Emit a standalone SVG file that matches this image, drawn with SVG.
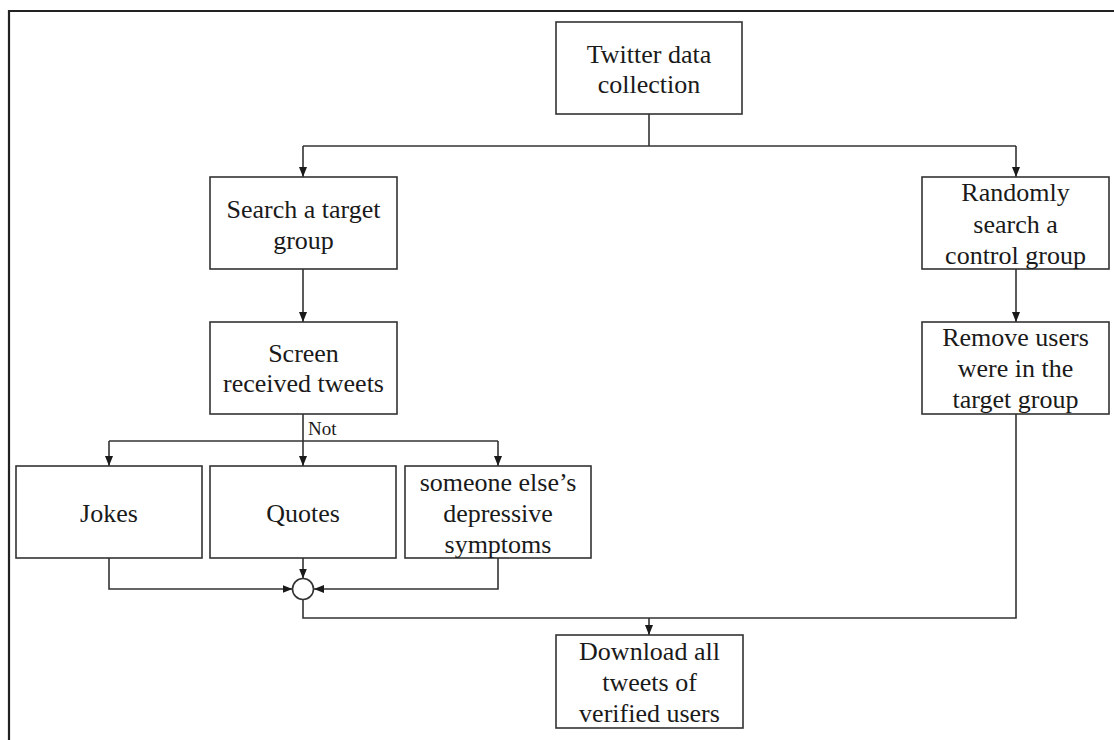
<svg xmlns="http://www.w3.org/2000/svg" width="1114" height="740" viewBox="0 0 1114 740">
<style>
  .box { fill: #ffffff; stroke: #333333; stroke-width: 1.6; }
  .t { font-family: "Liberation Serif", "Times New Roman", serif; font-size: 26px; fill: #1a1a1a; text-anchor: middle; }
  .lbl { font-family: "Liberation Serif", "Times New Roman", serif; font-size: 19px; fill: #1a1a1a; }
  .c { fill: none; stroke: #333333; stroke-width: 1.6; }
  .a { marker-end: url(#arr); }
</style>
<defs>
  <marker id="arr" markerUnits="userSpaceOnUse" markerWidth="10" markerHeight="10" viewBox="0 0 10 10" refX="10" refY="5" orient="auto">
    <path d="M0,1 L10,5 L0,9 Z" fill="#1a1a1a"/>
  </marker>
</defs>
<rect width="1114" height="740" fill="#ffffff"/>
<path d="M9,740 V11 H1114" fill="none" stroke="#222222" stroke-width="2.2"/>

<g id="connectors">
  <path class="c" d="M649,114 V146"/>
  <path class="c" d="M303,146 H1016"/>
  <path class="c a" d="M303,146 V177"/>
  <path class="c a" d="M1016,146 V177"/>
  <path class="c a" d="M303,269 V322"/>
  <path class="c a" d="M1016,269 V322"/>
  <path class="c" d="M303,414 V441"/>
  <path class="c" d="M109,441 H498"/>
  <path class="c a" d="M109,441 V466"/>
  <path class="c a" d="M303,441 V466"/>
  <path class="c a" d="M498,441 V466"/>
  <path class="c a" d="M109,558 V589 H292.5"/>
  <path class="c a" d="M498,558 V589 H314"/>
  <path class="c a" d="M303,558 V578.5"/>
  <path class="c" d="M303,599.5 V618 H1016 V414"/>
  <path class="c a" d="M649,618 V635"/>
  <text class="lbl" x="308" y="435">Not</text>
</g>

<g id="junction">
  <circle cx="303" cy="589" r="10.5" fill="#ffffff" stroke="#333333" stroke-width="1.6"/>
</g>

<g id="twitter">
  <rect class="box" x="556" y="22" width="186" height="92"/>
  <text class="t" x="649" y="63">Twitter data</text>
  <text class="t" x="649" y="93">collection</text>
</g>

<g id="search">
  <rect class="box" x="210" y="177" width="187" height="92"/>
  <text class="t" x="303.5" y="218">Search a target</text>
  <text class="t" x="303.5" y="249">group</text>
</g>

<g id="screen">
  <rect class="box" x="210" y="322" width="187" height="92"/>
  <text class="t" x="303.5" y="362">Screen</text>
  <text class="t" x="303.5" y="392">received tweets</text>
</g>

<g id="random">
  <rect class="box" x="922" y="177" width="187" height="92"/>
  <text class="t" x="1015.5" y="201">Randomly</text>
  <text class="t" x="1015.5" y="232.5">search a</text>
  <text class="t" x="1015.5" y="263.5">control group</text>
</g>

<g id="remove">
  <rect class="box" x="922" y="322" width="187" height="92"/>
  <text class="t" x="1015.5" y="346">Remove users</text>
  <text class="t" x="1015.5" y="377">were in the</text>
  <text class="t" x="1015.5" y="407.5">target group</text>
</g>

<g id="jokes">
  <rect class="box" x="16" y="466" width="186" height="92"/>
  <text class="t" x="109" y="522">Jokes</text>
</g>

<g id="quotes">
  <rect class="box" x="210" y="466" width="186" height="92"/>
  <text class="t" x="303" y="522">Quotes</text>
</g>

<g id="someone">
  <rect class="box" x="405" y="466" width="186" height="92"/>
  <text class="t" x="498" y="491">someone else’s</text>
  <text class="t" x="498" y="522">depressive</text>
  <text class="t" x="498" y="553">symptoms</text>
</g>

<g id="download">
  <rect class="box" x="556" y="635" width="187" height="93"/>
  <text class="t" x="649.5" y="660">Download all</text>
  <text class="t" x="649.5" y="691">tweets of</text>
  <text class="t" x="649.5" y="722">verified users</text>
</g>
</svg>
